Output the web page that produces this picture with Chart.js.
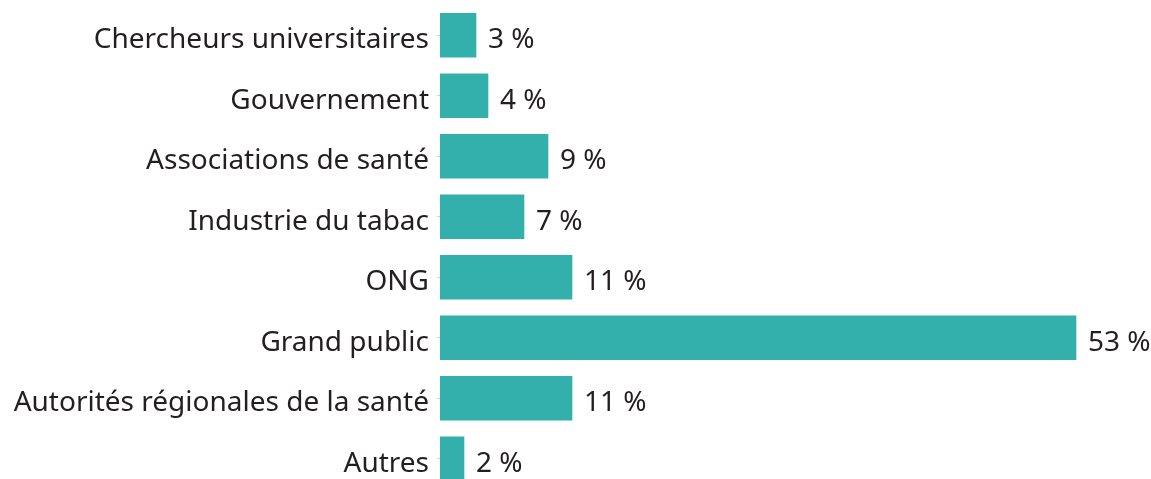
<!DOCTYPE html>
<html>
<head>
<meta charset="utf-8">
<script src="https://cdn.jsdelivr.net/npm/chart.js@4"></script>
<style>
  html, body { margin: 0; padding: 0; background: #fff; overflow: hidden; }
  #wrap { position: relative; width: 1151px; height: 494px; }
</style>
</head>
<body>
<div id="wrap"><canvas id="chart"></canvas></div>
<script>
var categories = [
    'Chercheurs universitaires',
    'Gouvernement',
    'Associations de santé',
    'Industrie du tabac',
    'ONG',
    'Grand public',
    'Autorités régionales de la santé',
    'Autres'
];
var values = [3, 4, 9, 7, 11, 53, 11, 2];
var valueLabels = ['3 %', '4 %', '9 %', '7 %', '11 %', '53 %', '11 %', '2 %'];

var textColor = '#231f20';
var fontFamily = '"Noto Sans", sans-serif';
var fontSize = 28;

// writes the percentage to the right of each bar
var valueLabelPlugin = {
    id: 'valueLabels',
    afterDatasetsDraw: function(chart) {
        var ctx = chart.ctx;
        var meta = chart.getDatasetMeta(0);
        ctx.save();
        ctx.font = fontSize + 'px ' + fontFamily;
        ctx.fillStyle = textColor;
        ctx.textAlign = 'left';
        ctx.textBaseline = 'middle';
        meta.data.forEach(function(bar, i) {
            ctx.fillText(valueLabels[i], bar.x + 12, bar.y + 5);
        });
        ctx.restore();
    }
};

var ctx = document.getElementById('chart');
var chart = new Chart(ctx, {
    type: 'bar',
    data: {
        labels: categories,
        datasets: [{
            data: values,
            backgroundColor: '#34b0ac',
            barThickness: 44
        }]
    },
    options: {
        indexAxis: 'y',
        responsive: true,
        maintainAspectRatio: false,
        animation: false,
        layout: { padding: { top: 5, bottom: 5, left: 0, right: 3 } },
        plugins: {
            legend: { display: false },
            tooltip: { enabled: false }
        },
        scales: {
            x: {
                display: false,
                min: 0,
                max: 59
            },
            y: {
                afterFit: function(scale) {
                    scale.width = 440;
                    scale.paddingTop = 0;
                    scale.paddingBottom = 0;
                },
                border: { display: false },
                grid: {
                    offset: false,
                    drawOnChartArea: false,
                    tickLength: 3,
                    color: '#d0d0d0'
                },
                ticks: {
                    padding: 8,
                    labelOffset: 5,
                    color: textColor,
                    font: { family: fontFamily, size: fontSize }
                }
            }
        }
    },
    plugins: [valueLabelPlugin]
});
</script>
</body>
</html>
